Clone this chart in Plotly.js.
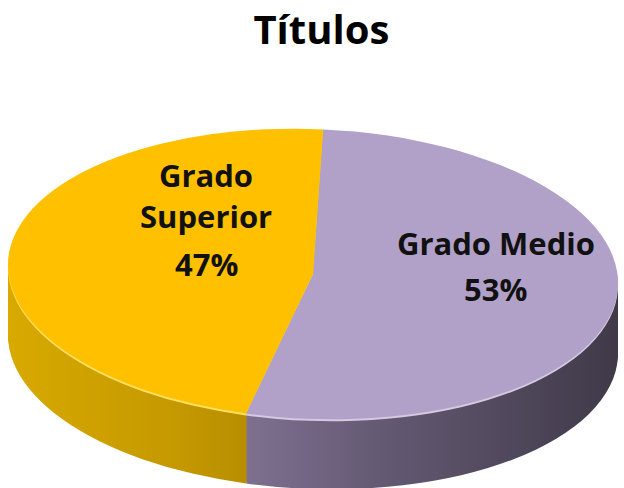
<!DOCTYPE html>
<html><head><meta charset="utf-8">
<script src="https://cdn.plot.ly/plotly-3.0.1.min.js"></script>
<style>html,body{margin:0;padding:0;background:#fff}#chart{width:624px;height:488px}</style>
</head><body><div id="chart"></div>
<script>
// ---- data ----
const categories = ["Grado Medio", "Grado Superior"];
const labelLines = [["Grado Medio"], ["Grado", "Superior"]];
const values = [53, 47];
const chartTitle = "Títulos";

// ---- styles ----
const topColors = ["#B1A0C7", "#FFC000"];
const highlightColors = ["#D4C9E0", "#FFE060"];
const sideColors = ["#6E607C", "#C09400"];
const FONT = "Open Sans, Noto Sans, sans-serif";

const total = values.reduce((a, b) => a + b, 0);
const pct = values.map(v => Math.round(v / total * 100) + "%");

// target ellipse geometry (pixels)
const CX = 313, CY = 274, A = 305, B = 145, SKEW = 1.7;
const DEPTH = 70, STEP = 2;
const ROT = 1.9;

const layers = [];
for (let d = DEPTH; d >= 4; d -= STEP) layers.push({off: d, kind: "side"});
layers.push({off: 2, kind: "hl"});
layers.push({off: 0, kind: "top"});

const traces = layers.map(L => ({
  type: "pie",
  labels: categories,
  values: values,
  sort: false,
  direction: "clockwise",
  rotation: ROT,
  textinfo: "none",
  hoverinfo: "none",
  showlegend: false,
  domain: {x: [0, 1], y: [0, 1]},
  marker: {colors: L.kind === "top" ? topColors : (L.kind === "hl" ? highlightColors : sideColors),
           line: {width: 0}}
}));

// label line positions (pixel centres) and text
const labelX = [496, 206];
const labelY = [[243, 289], [175, 216, 264]];
const annotations = [];
categories.forEach((c, i) => {
  const lines = labelLines[i].concat([pct[i]]);
  lines.forEach((t, k) => {
    annotations.push({
      text: "<b>" + t + "</b>", xref: "paper", yref: "paper",
      x: labelX[i] / 624, y: 1 - labelY[i][k] / 488,
      xanchor: "center", yanchor: "middle", showarrow: false,
      font: {family: FONT, size: 31, color: "#111111"}
    });
  });
});

const layout = {
  width: 624, height: 488,
  margin: {l: 0, r: 0, t: 0, b: 0},
  paper_bgcolor: "#ffffff",
  showlegend: false,
  title: {text: "<b>" + chartTitle + "</b>", x: 0.515, xanchor: "center", y: 0.938, yanchor: "middle",
          font: {family: FONT, size: 40, color: "#000000"}},
  annotations: annotations
};

const gd = document.getElementById("chart");
Plotly.newPlot(gd, traces, layout, {staticPlot: true, displayModeBar: false}).then(() => {
  const svg = gd.querySelector("svg.main-svg");
  const NS = "http://www.w3.org/2000/svg";
  const defs = document.createElementNS(NS, "defs");
  const grads = [
    {id: "side0", stops: [["0", "#7E7090"], ["0.35", "#655A74"], ["1", "#3F3948"]]},
    {id: "side1", stops: [["0", "#D8A900"], ["0.5", "#C69A00"], ["1", "#A98300"]]}
  ];
  grads.forEach(g => {
    const lg = document.createElementNS(NS, "linearGradient");
    lg.setAttribute("id", g.id);
    lg.setAttribute("x1", "0"); lg.setAttribute("x2", "1");
    lg.setAttribute("y1", "0"); lg.setAttribute("y2", "0");
    g.stops.forEach(s => {
      const st = document.createElementNS(NS, "stop");
      st.setAttribute("offset", s[0]);
      st.setAttribute("stop-color", s[1]);
      lg.appendChild(st);
    });
    defs.appendChild(lg);
  });
  svg.insertBefore(defs, svg.firstChild);

  const groups = gd.querySelectorAll(".pielayer g.trace");
  groups.forEach((g, i) => {
    const cd0 = gd.calcdata[i][0];
    const cx = cd0.cx, cy = cd0.cy, r = cd0.r;
    const tf = `translate(${CX},${CY + layers[i].off}) skewY(${SKEW}) scale(${A / r},${B / r}) translate(${-cx},${-cy})`;
    g.querySelectorAll("path.surface").forEach((p, j) => {
      p.setAttribute("transform", tf);
      const idx = (p.__data__ && p.__data__.i !== undefined) ? p.__data__.i : j;
      if (layers[i].kind === "side") p.style.fill = "url(#side" + idx + ")";
    });
  });
});
</script>
</body></html>
